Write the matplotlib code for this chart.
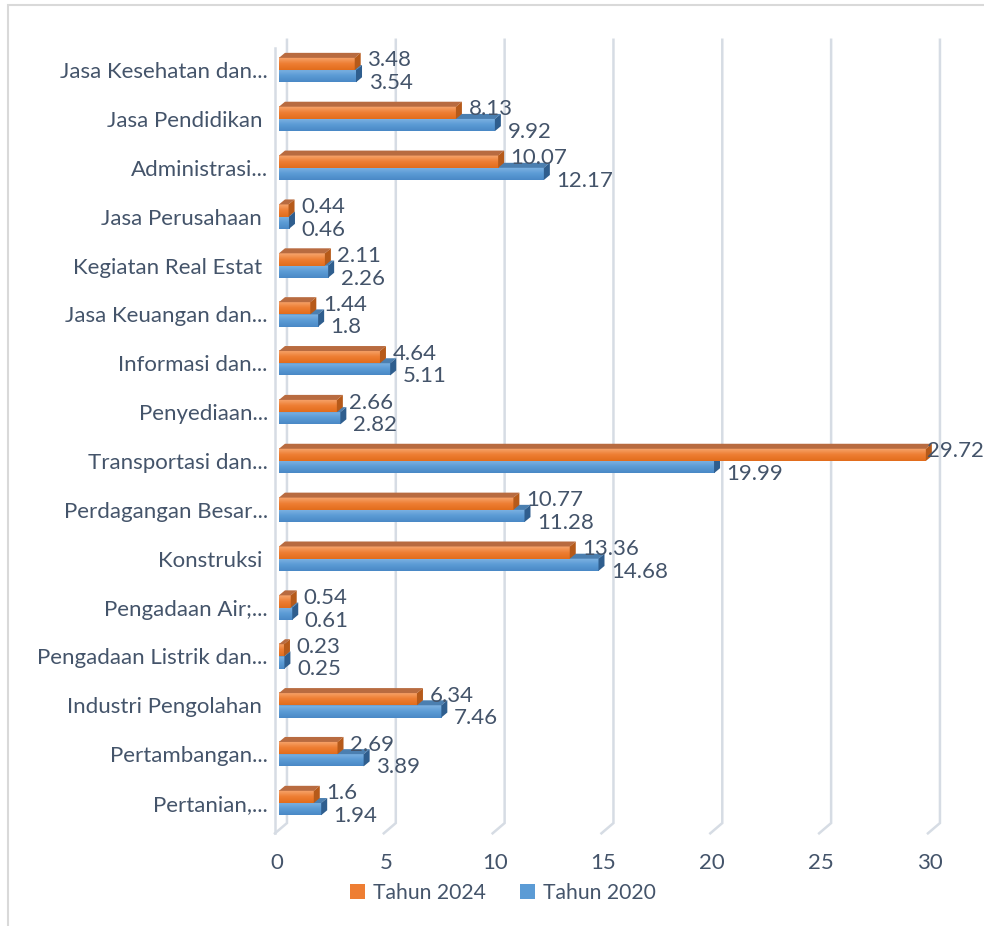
import matplotlib
matplotlib.use("Agg")
import matplotlib.pyplot as plt
import numpy as np
from matplotlib.patches import Polygon, Rectangle
from matplotlib.colors import LinearSegmentedColormap

# sectors, bottom to top as drawn
sectors = [
    "Pertanian,...", "Pertambangan...", "Industri Pengolahan ",
    "Pengadaan Listrik dan...", "Pengadaan Air;...", "Konstruksi ",
    "Perdagangan Besar...", "Transportasi dan...", "Penyediaan...",
    "Informasi dan...", "Jasa Keuangan dan...", "Kegiatan Real Estat ",
    "Jasa Perusahaan ", "Administrasi...", "Jasa Pendidikan ",
    "Jasa Kesehatan dan...",
]
tahun_2024 = [1.6, 2.69, 6.34, 0.23, 0.54, 13.36, 10.77, 29.72, 2.66, 4.64,
              1.44, 2.11, 0.44, 10.07, 8.13, 3.48]
tahun_2020 = [1.94, 3.89, 7.46, 0.25, 0.61, 14.68, 11.28, 19.99, 2.82, 5.11,
              1.8, 2.26, 0.46, 12.17, 9.92, 3.54]
x_ticks = [0, 5, 10, 15, 20, 25, 30]

FONT = "Lato"
TXT = "#44546A"
GRID = "#D6DCE4"

fig = plt.figure(figsize=(9.84, 9.26), dpi=100)
ax = fig.add_axes([0.2835, 0.0985, 0.6636, 0.8575])
XMAX = 30
YLIM = (-0.65, 15.6)
PX = XMAX / 653.0          # one pixel in x data units
PY = 1 / 48.87             # one pixel in y data units

# chart border (only top/left visible in the crop)
fig.patches.append(Rectangle((8 / 984, -0.2), 1.3, 1.2 - 5 / 926,
                             transform=fig.transFigure, fill=False,
                             edgecolor="#D9D9D9", lw=1.5))

# 3d-ish gridlines: back wall line, slanted floor segment to the front
for t in x_ticks:
    bx, fx = t + 8 * PX, t - 4 * PX
    ax.plot([bx, bx, fx], [15.62, -0.41, -0.62], color=GRID, lw=1.8,
            clip_on=False, zorder=0, solid_joinstyle="miter")
ax.plot([-4 * PX, -4 * PX], [15.45, -0.62], color=GRID, lw=1.8,
        clip_on=False, zorder=0)

h = 0.25
dx, dy = 6 * PX, 5 * PY

styles = {
    "2024": dict(light="#F7A66E", mid="#EE7E33", dark="#E26D1C",
                 top="#B86B40", side="#B65A1A"),
    "2020": dict(light="#7FB3E3", mid="#5B9BD5", dark="#4A89C6",
                 top="#4B7FB0", side="#2F5E8E"),
}


def bar3d(v, y0, st, z):
    cmap = LinearSegmentedColormap.from_list(
        "g", [st["dark"], st["mid"], st["light"]])
    grad = np.linspace(0, 1, 32).reshape(-1, 1)
    ax.imshow(grad, extent=[0, v, y0, y0 + h], origin="lower", cmap=cmap,
              aspect="auto", zorder=z, interpolation="bilinear")
    ax.add_patch(Polygon([(0, y0 + h), (dx, y0 + h + dy), (v + dx, y0 + h + dy),
                          (v, y0 + h)], closed=True, facecolor=st["top"],
                         edgecolor="none", zorder=z))
    ax.add_patch(Polygon([(v, y0), (v + dx, y0 + dy), (v + dx, y0 + h + dy),
                          (v, y0 + h)], closed=True, facecolor=st["side"],
                         edgecolor="none", zorder=z))


for i in range(len(sectors)):
    bar3d(tahun_2020[i], i - h, styles["2020"], 2 + i * 0.01)
    bar3d(tahun_2024[i], i, styles["2024"], 3 + i * 0.01)


def label_dx(v):
    # labels near the right edge hug the bar end
    return 1 if v > 0.9 * XMAX else 9


for i in range(len(sectors)):
    ax.annotate(f"{tahun_2024[i]:g}", (tahun_2024[i], i + h / 2),
                xytext=(label_dx(tahun_2024[i]), 2.5), textcoords="offset points",
                ha="left", va="center", fontsize=16, color=TXT, family=FONT,
                zorder=5)
    ax.annotate(f"{tahun_2020[i]:g}", (tahun_2020[i], i - h / 2),
                xytext=(label_dx(tahun_2020[i]), -5), textcoords="offset points",
                ha="left", va="center", fontsize=16, color=TXT, family=FONT,
                zorder=5)

ax.set_xlim(0, XMAX)
ax.set_ylim(*YLIM)
ax.set_yticks(range(len(sectors)))
ax.set_yticklabels(sectors, fontsize=16, color=TXT, family=FONT)
ax.set_xticks([])
for t in x_ticks:
    ax.text(t - 2 * PX, -0.65 - 28 * PY, str(t), ha="center", va="center",
            fontsize=16, color=TXT, family=FONT)
ax.tick_params(axis="y", length=0, pad=8)
for s in ax.spines.values():
    s.set_visible(False)
ax.patch.set_alpha(0)

handles = [Rectangle((0, 0), 1, 1, facecolor=styles[k]["mid"]) for k in ("2024", "2020")]
fig.legend(handles, ["Tahun 2024", "Tahun 2020"], loc="center",
           bbox_to_anchor=(503 / 984, 1 - 893 / 926), ncol=2, frameon=False,
           prop={"family": FONT, "size": 15.2}, labelcolor=TXT,
           handlelength=0.7, handleheight=0.7, handletextpad=0.4,
           columnspacing=1.6)

fig.savefig("out.png", dpi=100)
